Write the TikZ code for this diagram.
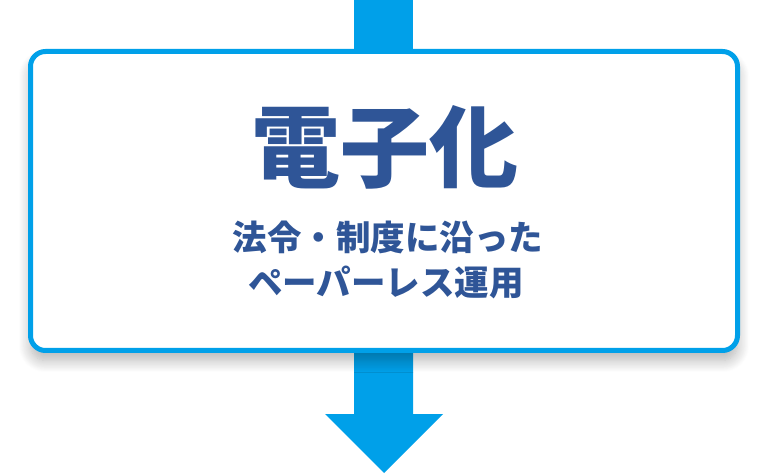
\documentclass[tikz,border=0pt]{standalone}
\usepackage{fontspec}
\newfontfamily\cjk{Noto Sans CJK JP Black}
\usetikzlibrary{shadows.blur}
\definecolor{arrowblue}{HTML}{00A0E9}
\definecolor{textblue}{HTML}{2F5597}
\begin{document}
\begin{tikzpicture}[x=1pt,y=1pt,
  flow/.style={fill=arrowblue,draw=none},
  card/.style={draw=arrowblue,line width=5pt,fill=white,rounded corners=15pt,
    blur shadow={shadow xshift=0pt,shadow yshift=-10pt,shadow blur steps=16,shadow blur radius=12pt,shadow opacity=30}},
  title/.style={text=textblue,font=\cjk\fontsize{89}{92}\selectfont,inner sep=0pt},
  sub/.style={text=textblue,font=\cjk\fontsize{34.5}{45}\selectfont,inner sep=0pt,align=center}]
\useasboundingbox (0,0) rectangle (768,474);
% top bar
\fill[flow] (354,420) rectangle (413,474);
% bottom arrow
\fill[flow] (354,130) -- (413,130) -- (413,60) -- (443,60) -- (384,1) -- (325,60) -- (354,60) -- cycle;
% box
\path[card] (30.5,123.5) rectangle (737.5,422.5);
\node[title] (t) at (385,327) {電子化};
\node[sub] (s1) at (388,237) {法令・制度に沿った};
\node[sub] (s2) at (386,192) {ペーパーレス運用};
\end{tikzpicture}
\end{document}
